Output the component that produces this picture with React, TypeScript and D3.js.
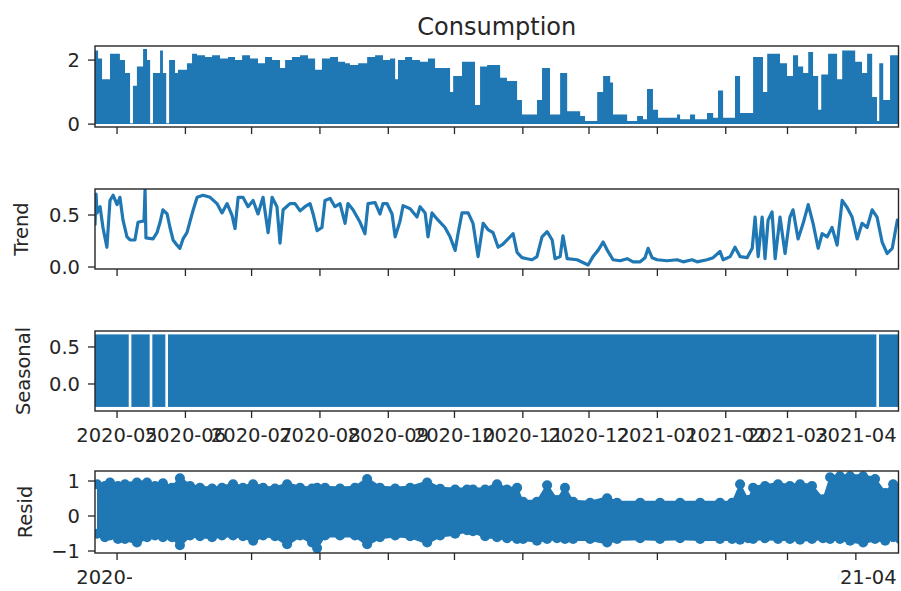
import { useEffect, useRef } from 'react';
import * as d3 from 'd3';

// time axis: day offsets counted from START
const START = new Date(2020, 3, 21);
const END = new Date(2021, 3, 20, 8);

const monthTicks = ['2020-05', '2020-06', '2020-07', '2020-08', '2020-09', '2020-10', '2020-11', '2020-12', '2021-01', '2021-02', '2021-03', '2021-04'];

// Consumption: upper envelope of the hourly series (step segments)
const consDays = [0, 1.4, 3.2, 6.8, 11.3, 13.6, 15.9, 17.2, 19.0, 21.8, 23.6, 25.0, 26.3, 29.5, 30.8, 32.3, 33.6, 36.3, 37.6, 41.7, 44.0, 46.3, 49.9, 53.1, 56.7, 60.3, 63.5, 66.7, 70.3, 73.9, 77.1, 80.3, 83.9, 86.2, 89.3, 93.0, 96.6, 99.8, 102.9, 106.6, 110.2, 113.4, 115.6, 119.3, 123.4, 127.0, 130.6, 133.8, 136.1, 137.4, 140.6, 143.8, 147.4, 151.0, 154.2, 161.0, 162.4, 166.4, 172.3, 174.6, 177.8, 183.7, 186.8, 191.4, 193.6, 200.4, 202.7, 206.3, 210.9, 214.1, 220.0, 222.2, 227.7, 230.4, 233.6, 234.9, 241.3, 245.8, 248.5, 250.3, 253.0, 255.3, 263.9, 265.3, 269.8, 272.1, 277.5, 280.3, 282.5, 284.8, 290.2, 292.5, 298.4, 302.9, 304.8, 310.6, 313.8, 316.5, 318.8, 321.1, 323.4, 325.6, 327.9, 329.3, 332.4, 336.5, 338.8, 344.7, 347.8, 350.1, 352.4, 354.6, 355.6, 357.4, 360.5, 365];
const consValues = [2.3, 2.05, 1.4, 2.2, 2.0, 1.6, 0.03, 1.2, 1.8, 2.35, 2.0, 0.03, 1.6, 2.3, 1.6, 0.03, 2.0, 1.6, 1.7, 1.9, 2.2, 2.15, 2.1, 2.15, 2.05, 2.1, 2.0, 2.15, 2.05, 1.9, 2.1, 2.0, 1.75, 2.0, 2.1, 2.15, 2.05, 1.7, 2.05, 2.1, 1.95, 1.9, 1.85, 1.9, 2.1, 2.15, 2.0, 2.05, 1.4, 2.0, 2.1, 2.0, 1.95, 2.05, 1.75, 1.0, 1.5, 1.95, 0.6, 1.8, 1.85, 1.45, 1.35, 0.75, 0.3, 0.75, 1.75, 0.3, 1.6, 0.4, 0.25, 0.1, 1.0, 1.5, 1.3, 0.3, 0.1, 0.25, 0.15, 1.1, 0.45, 0.2, 0.3, 0.15, 0.3, 0.15, 0.35, 0.2, 1.05, 0.2, 1.5, 0.35, 2.1, 1.0, 2.2, 1.9, 1.5, 2.15, 1.8, 1.6, 2.25, 1.5, 0.45, 1.55, 2.2, 1.4, 2.3, 1.95, 1.6, 2.2, 0.85, 0.1, 1.9, 0.75, 2.15, 2.15];

// Trend
const trendDays = [0, 0.5, 0.9, 2.3, 3.6, 5.4, 6.8, 8.2, 10.0, 11.3, 12.7, 14.5, 15.9, 18.1, 19.5, 21.3, 22.2, 22.7, 23.1, 26.3, 28.1, 29.5, 30.8, 32.7, 34.0, 35.4, 37.2, 38.5, 39.9, 41.7, 43.1, 44.4, 46.3, 49.0, 52.2, 55.3, 57.6, 59.9, 62.1, 63.5, 64.9, 67.1, 69.4, 71.7, 73.9, 76.2, 78.5, 80.3, 82.5, 83.9, 85.3, 88.4, 90.7, 93.0, 95.2, 97.5, 98.9, 100.7, 102.9, 104.3, 106.6, 108.8, 111.1, 113.4, 114.7, 117.0, 120.2, 122.4, 123.8, 127.0, 129.2, 130.6, 132.4, 134.7, 136.1, 138.3, 139.7, 142.9, 146.0, 147.4, 149.7, 151.0, 152.8, 155.6, 158.7, 161.0, 163.3, 164.6, 166.4, 169.2, 171.4, 173.7, 176.0, 178.2, 180.5, 182.8, 185.0, 187.3, 189.6, 191.4, 193.6, 195.9, 198.2, 200.4, 202.7, 205.0, 207.3, 208.6, 210.9, 212.2, 214.1, 218.6, 223.6, 225.8, 228.1, 230.4, 232.6, 234.9, 238.1, 241.3, 244.0, 247.2, 249.4, 250.8, 252.6, 254.9, 259.4, 263.9, 266.7, 270.7, 273.0, 277.5, 280.3, 283.4, 284.8, 288.0, 290.2, 292.5, 295.7, 298.0, 299.3, 300.7, 302.5, 303.8, 305.2, 307.0, 308.4, 310.6, 312.9, 315.1, 316.5, 318.8, 321.1, 323.4, 325.6, 327.9, 329.7, 332.0, 334.2, 336.5, 338.8, 341.1, 343.3, 345.6, 347.8, 350.1, 352.4, 354.6, 356.9, 359.2, 361.5, 363.8, 365];
const trendValues = [0.4, 0.7, 0.52, 0.58, 0.38, 0.19, 0.64, 0.69, 0.6, 0.67, 0.45, 0.29, 0.26, 0.26, 0.43, 0.44, 0.44, 0.74, 0.28, 0.27, 0.33, 0.43, 0.55, 0.51, 0.38, 0.26, 0.21, 0.18, 0.27, 0.33, 0.44, 0.54, 0.67, 0.69, 0.67, 0.61, 0.52, 0.61, 0.5, 0.37, 0.67, 0.67, 0.58, 0.64, 0.51, 0.67, 0.33, 0.67, 0.58, 0.23, 0.55, 0.61, 0.61, 0.54, 0.58, 0.61, 0.51, 0.35, 0.38, 0.64, 0.66, 0.58, 0.61, 0.42, 0.61, 0.55, 0.43, 0.32, 0.61, 0.62, 0.51, 0.61, 0.61, 0.51, 0.29, 0.44, 0.59, 0.56, 0.48, 0.58, 0.52, 0.29, 0.52, 0.45, 0.38, 0.29, 0.16, 0.32, 0.52, 0.52, 0.42, 0.1, 0.42, 0.36, 0.33, 0.19, 0.22, 0.27, 0.32, 0.14, 0.09, 0.08, 0.07, 0.1, 0.29, 0.34, 0.26, 0.08, 0.1, 0.3, 0.08, 0.07, 0.02, 0.1, 0.16, 0.24, 0.15, 0.07, 0.06, 0.08, 0.05, 0.05, 0.09, 0.18, 0.09, 0.07, 0.06, 0.07, 0.05, 0.07, 0.05, 0.07, 0.09, 0.15, 0.07, 0.1, 0.19, 0.1, 0.09, 0.18, 0.48, 0.1, 0.48, 0.08, 0.45, 0.53, 0.08, 0.48, 0.13, 0.48, 0.55, 0.27, 0.42, 0.6, 0.42, 0.18, 0.32, 0.29, 0.38, 0.21, 0.64, 0.57, 0.48, 0.27, 0.42, 0.38, 0.55, 0.48, 0.24, 0.13, 0.18, 0.45, 0.45];

// Seasonal: daily cycle fills the band between its min and max
const seasonalRange = [-0.31, 0.67];
// missing observations (white stripes)
const gapDays = [15.9, 25.4, 32.5, 354.9];

// Resid: outer edges of the scatter cloud
const residDays = [0.9, 4.5, 6.8, 10.4, 13.6, 19.0, 23.6, 27.2, 30.8, 34.9, 38.5, 43.1, 47.6, 53.1, 57.6, 62.6, 67.1, 71.7, 76.2, 81.6, 87.1, 93.0, 98.4, 100.7, 104.3, 111.1, 117.9, 123.4, 129.2, 136.1, 142.9, 150.6, 156.5, 163.3, 168.7, 171.4, 176.9, 182.3, 186.8, 191.4, 194.1, 200.4, 205.0, 209.5, 213.1, 216.8, 224.5, 232.2, 236.7, 247.2, 256.2, 265.3, 274.4, 283.4, 288.9, 292.5, 296.1, 298.4, 303.8, 309.7, 315.1, 319.7, 325.1, 330.1, 333.3, 337.8, 342.4, 348.3, 353.7, 358.3, 361.9, 365];
const residHigh = [1.05, 1.0, 1.1, 1.0, 1.05, 1.1, 1.1, 1.0, 1.08, 0.95, 1.22, 1.0, 0.95, 0.93, 0.95, 1.05, 0.95, 1.05, 0.95, 0.93, 1.05, 0.95, 0.93, 0.95, 0.95, 0.93, 0.95, 1.2, 0.95, 0.93, 0.95, 1.1, 0.92, 0.9, 0.9, 0.9, 0.9, 1.05, 0.9, 0.95, 0.55, 0.55, 1.02, 0.6, 0.95, 0.55, 0.52, 0.65, 0.52, 0.52, 0.52, 0.52, 0.52, 0.52, 0.52, 1.05, 0.6, 0.95, 1.0, 1.05, 1.0, 1.05, 1.0, 0.62, 1.25, 1.28, 1.28, 1.28, 1.2, 0.8, 1.05, 0.95];
const residLow = [-0.65, -0.75, -0.7, -0.8, -0.8, -0.9, -0.75, -0.7, -0.75, -0.75, -0.98, -0.7, -0.72, -0.75, -0.7, -0.7, -0.72, -0.85, -0.7, -0.72, -0.95, -0.7, -0.9, -1.06, -0.7, -0.7, -0.7, -0.95, -0.75, -0.7, -0.72, -0.9, -0.7, -0.65, -0.55, -0.58, -0.72, -0.75, -0.78, -0.8, -0.8, -0.85, -0.8, -0.78, -0.8, -0.8, -0.8, -0.9, -0.8, -0.78, -0.8, -0.78, -0.8, -0.8, -0.8, -0.82, -0.78, -0.8, -0.78, -0.8, -0.8, -0.82, -0.8, -0.78, -0.8, -0.8, -0.85, -0.9, -0.8, -0.85, -0.75, -0.8];

const W = 901;
const H = 591;

const App: React.FC = () => {
    const svgRef = useRef<SVGSVGElement>(null);

    useEffect(() => {
        document.body.style.margin = '0';
        if (!svgRef.current) return;
        const svg = d3.select(svgRef.current);
        svg.selectAll('*').remove();

        const blue = '#1f77b4';
        const ink = '#262626';
        const font = '"DejaVu Sans", sans-serif';
        const left = 95;
        const right = 898.5;

        const toDate = (d: number) => new Date(START.getTime() + d * 864e5);
        const x = d3.scaleTime().domain([START, END]).range([left, right]);
        const parseMonth = d3.timeParse('%Y-%m');
        const tickDates = monthTicks.map(m => parseMonth(m)!);

        const panels = [
            { top: 46, bottom: 127, domain: [-0.09, 2.44], ticks: [0, 2], fmt: (v: number) => String(v), label: '', labelX: 0 },
            { top: 189, bottom: 269, domain: [-0.019, 0.75], ticks: [0, 0.5], fmt: d3.format('.1f'), label: 'Trend', labelX: 28 },
            { top: 331, bottom: 411, domain: [-0.365, 0.716], ticks: [0, 0.5], fmt: d3.format('.1f'), label: 'Seasonal', labelX: 30 },
            { top: 471, bottom: 553, domain: [-1.057, 1.286], ticks: [-1, 0, 1], fmt: (v: number) => String(v).replace('-', '\u2212'), label: 'Resid', labelX: 32 },
        ];
        const ys = panels.map(p => d3.scaleLinear().domain(p.domain).range([p.bottom, p.top]));

        const defs = svg.append('defs');
        panels.forEach((p, i) => {
            defs.append('clipPath').attr('id', `clip-${i}`)
                .append('rect')
                .attr('x', left).attr('y', p.top)
                .attr('width', right - left).attr('height', p.bottom - p.top);
        });

        // Consumption
        const consData = consDays.map((d, i) => ({ d, v: consValues[i] }));
        svg.append('path')
            .datum(consData)
            .attr('clip-path', 'url(#clip-0)')
            .attr('fill', blue)
            .attr('d', d3.area<{ d: number; v: number }>()
                .curve(d3.curveStepAfter)
                .x(e => x(toDate(e.d)))
                .y0(ys[0](0))
                .y1(e => ys[0](e.v)));

        // Trend
        const trendData = trendDays.map((d, i) => ({ d, v: trendValues[i] }));
        svg.append('path')
            .datum(trendData)
            .attr('clip-path', 'url(#clip-1)')
            .attr('fill', 'none')
            .attr('stroke', blue)
            .attr('stroke-width', 3.2)
            .attr('stroke-linejoin', 'round')
            .attr('d', d3.line<{ d: number; v: number }>()
                .x(e => x(toDate(e.d)))
                .y(e => ys[1](e.v)));

        // Seasonal band, broken at missing observations
        const bounds = [0, ...gapDays.flatMap(g => [g - 0.6, g + 0.6]), 365];
        const segs = d3.range(0, bounds.length, 2).map(i => [bounds[i], bounds[i + 1]]);
        svg.append('g').attr('clip-path', 'url(#clip-2)')
            .selectAll('rect')
            .data(segs)
            .join('rect')
            .attr('x', s => x(toDate(s[0])))
            .attr('width', s => x(toDate(s[1])) - x(toDate(s[0])))
            .attr('y', ys[2](seasonalRange[1]))
            .attr('height', ys[2](seasonalRange[0]) - ys[2](seasonalRange[1]))
            .attr('fill', blue);

        // Resid cloud
        const r = 5;
        const residData = residDays.map((d, i) => ({ d, hi: residHigh[i], lo: residLow[i] }));
        const gR = svg.append('g').attr('clip-path', 'url(#clip-3)');
        gR.append('path')
            .datum(residData)
            .attr('fill', blue)
            .attr('d', d3.area<{ d: number; hi: number; lo: number }>()
                .x(e => x(toDate(e.d)))
                .y0(e => ys[3](e.lo) - r * 0.6)
                .y1(e => ys[3](e.hi) + r * 0.6));
        gR.selectAll('circle.hi')
            .data(residData)
            .join('circle')
            .attr('class', 'hi')
            .attr('cx', e => x(toDate(e.d)))
            .attr('cy', e => ys[3](e.hi) + r)
            .attr('r', r)
            .attr('fill', blue);
        gR.selectAll('circle.lo')
            .data(residData)
            .join('circle')
            .attr('class', 'lo')
            .attr('cx', e => x(toDate(e.d)))
            .attr('cy', e => ys[3](e.lo) - r)
            .attr('r', r)
            .attr('fill', blue);

        // frames, ticks, labels
        panels.forEach((p, i) => {
            const y = ys[i];
            const g = svg.append('g');
            g.append('rect')
                .attr('x', left).attr('y', p.top)
                .attr('width', right - left).attr('height', p.bottom - p.top)
                .attr('fill', 'none').attr('stroke', ink).attr('stroke-width', 1.4);

            g.selectAll('line.yt')
                .data(p.ticks)
                .join('line')
                .attr('class', 'yt')
                .attr('x1', left - 7).attr('x2', left)
                .attr('y1', v => y(v)).attr('y2', v => y(v))
                .attr('stroke', ink).attr('stroke-width', 1.3);
            g.selectAll('text.yl')
                .data(p.ticks)
                .join('text')
                .attr('class', 'yl')
                .attr('x', left - 15)
                .attr('y', v => y(v))
                .attr('dy', '0.36em')
                .attr('text-anchor', 'end')
                .attr('font-family', font).attr('font-size', 19.5)
                .attr('fill', ink)
                .text(v => p.fmt(v));

            g.selectAll('line.xt')
                .data(tickDates)
                .join('line')
                .attr('class', 'xt')
                .attr('x1', d => x(d)).attr('x2', d => x(d))
                .attr('y1', p.bottom).attr('y2', p.bottom + 7)
                .attr('stroke', ink).attr('stroke-width', 1.3);

            if (p.label) {
                g.append('text')
                    .attr('transform', `translate(${p.labelX},${(p.top + p.bottom) / 2}) rotate(-90)`)
                    .attr('text-anchor', 'middle')
                    .attr('font-family', font).attr('font-size', 19.5)
                    .attr('fill', ink)
                    .text(p.label);
            }
        });

        // seasonal panel carries all date labels, overlapping
        svg.append('g')
            .selectAll('text')
            .data(monthTicks)
            .join('text')
            .attr('x', (_, i) => x(tickDates[i]))
            .attr('y', panels[2].bottom + 31)
            .attr('text-anchor', 'middle')
            .attr('font-family', font).attr('font-size', 19.5)
            .attr('fill', ink)
            .text(m => m);

        // bottom panel: only the outer fragments are visible
        const first = x(tickDates[0]);
        const last = x(tickDates[tickDates.length - 1]);
        const cp = defs.append('clipPath').attr('id', 'clip-bottom-labels');
        cp.append('rect').attr('x', 0).attr('y', 0).attr('width', first + 15).attr('height', H);
        cp.append('rect').attr('x', last - 17).attr('y', 0).attr('width', W - last + 17).attr('height', H);
        svg.append('g')
            .attr('clip-path', 'url(#clip-bottom-labels)')
            .selectAll('text')
            .data([0, monthTicks.length - 1])
            .join('text')
            .attr('x', i => x(tickDates[i]))
            .attr('y', panels[3].bottom + 31)
            .attr('text-anchor', 'middle')
            .attr('font-family', font).attr('font-size', 19.5)
            .attr('fill', ink)
            .text(i => monthTicks[i]);

        svg.append('text')
            .attr('x', (left + right) / 2)
            .attr('y', 35)
            .attr('text-anchor', 'middle')
            .attr('font-family', font).attr('font-size', 24)
            .attr('fill', ink)
            .text('Consumption');
    }, []);

    return (
        <svg ref={svgRef} width={W} height={H} style={{ display: 'block', background: '#fff' }}></svg>
    );
};

export default App;
